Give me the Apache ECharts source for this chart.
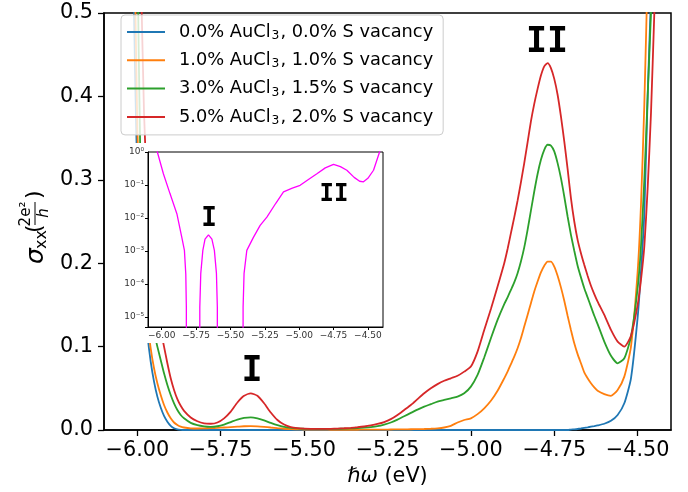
<!DOCTYPE html>
<html>
<head>
<meta charset="utf-8">
<script src="https://cdn.jsdelivr.net/npm/echarts@6.0.0/dist/echarts.min.js"></script>
<style>
html, body { margin: 0; padding: 0; background: #fff; }
#chart { width: 688px; height: 492px; }
</style>
</head>
<body>
<div id="chart"></div>
<script>
// photon energy grid (eV), shared by the four main curves
var energy = [
  -6.02, -6.01, -6.00, -5.99, -5.98, -5.97, -5.96, -5.95, -5.94, -5.93,
  -5.92, -5.91, -5.90, -5.89, -5.88, -5.87, -5.86,
  -5.84, -5.82, -5.80, -5.78, -5.76, -5.74, -5.72, -5.70, -5.68, -5.66,
  -5.64, -5.62, -5.60, -5.58, -5.56, -5.54, -5.52, -5.50,
  -5.48, -5.46, -5.44, -5.42, -5.40, -5.38, -5.36, -5.34, -5.32, -5.30,
  -5.28, -5.26, -5.24, -5.22, -5.20, -5.18, -5.16, -5.14, -5.12, -5.10,
  -5.08, -5.06, -5.04, -5.02,
  -5.00, -4.98, -4.96, -4.94, -4.92,
  -4.90, -4.89, -4.88, -4.87, -4.86, -4.85, -4.84, -4.83, -4.82, -4.81,
  -4.80, -4.79, -4.78, -4.77, -4.76, -4.75, -4.74, -4.73, -4.72, -4.71,
  -4.70, -4.69, -4.68, -4.67, -4.66, -4.65, -4.64, -4.63, -4.62,
  -4.60, -4.58, -4.56, -4.54, -4.52, -4.50,
  -4.49, -4.48, -4.47, -4.46, -4.45, -4.44
];

// sigma_xx in units of 2e^2/h
var sigma0 = [
  0.80, 0.50, 0.30, 0.22, 0.16, 0.115, 0.082, 0.058, 0.040, 0.027,
  0.017, 0.010, 0.005, 0.002, 0.0007, 0.0002, 0,
  0, 0, 0, 0, 0, 0, 0, 0, 0, 0,
  0, 0, 0, 0, 0, 0, 0, 0,
  0, 0, 0, 0, 0, 0, 0, 0, 0, 0,
  0, 0, 0, 0, 0, 0, 0, 0, 0, 0,
  0, 0, 0, 0,
  0, 0, 0, 0, 0,
  0, 0, 0, 0, 0, 0, 0, 0, 0, 0,
  0, 0, 0, 0, 0, 0, 0, 0, 0, 0,
  0.0005, 0.0008, 0.0012, 0.0018, 0.0025, 0.0032, 0.004, 0.0047, 0.0055,
  0.0075, 0.011, 0.018, 0.032, 0.062, 0.135,
  0.19, 0.26, 0.40, 0.52, 0.64, 0.78
];
var sigma1 = [
  0.90, 0.62, 0.36, 0.25, 0.18, 0.13, 0.098, 0.074, 0.056, 0.042,
  0.030, 0.021, 0.014, 0.009, 0.006, 0.004, 0.003,
  0.002, 0.0018, 0.002, 0.0022, 0.0025, 0.003, 0.0035, 0.004, 0.0045, 0.0046,
  0.0044, 0.0038, 0.003, 0.0022, 0.0015, 0.001, 0.0008, 0.0006,
  0.0005, 0.0004, 0.0004, 0.0003, 0.0003, 0.0003, 0.0003, 0.0003, 0.0004, 0.0004,
  0.0005, 0.0005, 0.0006, 0.0007, 0.0008, 0.0009, 0.001, 0.0012, 0.0015, 0.002,
  0.003, 0.005, 0.009, 0.012,
  0.014, 0.019, 0.026, 0.035, 0.047,
  0.062, 0.070, 0.079, 0.088, 0.098, 0.110, 0.124, 0.138, 0.152, 0.166,
  0.178, 0.189, 0.197, 0.202, 0.202, 0.196, 0.185, 0.171, 0.155, 0.137,
  0.120, 0.104, 0.091, 0.080, 0.069, 0.062, 0.056, 0.051, 0.047,
  0.043, 0.041, 0.048, 0.064, 0.100, 0.19,
  0.27, 0.39, 0.55, 0.70, 0.85, 1.0
];
var sigma3 = [
  1.4, 0.9, 0.58, 0.30, 0.22, 0.17, 0.14, 0.118, 0.100, 0.084,
  0.068, 0.054, 0.042, 0.032, 0.024, 0.018, 0.014,
  0.0085, 0.0058, 0.0044, 0.0038, 0.0045, 0.0065, 0.0095, 0.0125, 0.0145, 0.0152,
  0.014, 0.0115, 0.0085, 0.0058, 0.0038, 0.0026, 0.0019, 0.0015,
  0.0013, 0.0012, 0.0012, 0.0013, 0.0014, 0.0016, 0.0019, 0.0023, 0.0028, 0.0035,
  0.0046, 0.0065, 0.009, 0.0125, 0.0165, 0.0205, 0.0245, 0.028, 0.031, 0.034,
  0.036, 0.038, 0.040, 0.044,
  0.052, 0.066, 0.087, 0.110, 0.132,
  0.151, 0.159, 0.168, 0.177, 0.188, 0.202, 0.219, 0.240, 0.263, 0.286,
  0.307, 0.324, 0.336, 0.342, 0.341, 0.334, 0.320, 0.302, 0.280, 0.256,
  0.234, 0.215, 0.197, 0.183, 0.170, 0.159, 0.148, 0.137, 0.127,
  0.106, 0.089, 0.080, 0.086, 0.112, 0.17,
  0.22, 0.30, 0.40, 0.50, 0.62, 0.75
];
var sigma5 = [
  1.5, 1.0, 0.75, 0.56, 0.38, 0.28, 0.21, 0.170, 0.142, 0.120,
  0.100, 0.080, 0.062, 0.048, 0.037, 0.029, 0.023,
  0.015, 0.0105, 0.008, 0.0075, 0.009, 0.014, 0.022, 0.033, 0.041, 0.044,
  0.041, 0.032, 0.021, 0.012, 0.0065, 0.0035, 0.0022, 0.0016,
  0.0014, 0.0013, 0.0013, 0.0014, 0.0017, 0.0021, 0.0026, 0.0033, 0.0042, 0.0055,
  0.0072, 0.0095, 0.013, 0.018, 0.024, 0.030, 0.037, 0.044, 0.050, 0.055,
  0.059, 0.062, 0.065, 0.070,
  0.076, 0.094, 0.12, 0.145, 0.172,
  0.200, 0.217, 0.236, 0.255, 0.275, 0.297, 0.320, 0.345, 0.370, 0.391,
  0.409, 0.425, 0.436, 0.440, 0.434, 0.421, 0.402, 0.376, 0.346, 0.313,
  0.278, 0.250, 0.228, 0.212, 0.198, 0.185, 0.173, 0.163, 0.154,
  0.138, 0.12, 0.106, 0.10, 0.113, 0.15,
  0.18, 0.22, 0.29, 0.38, 0.50, 0.62
];

var seriesNames = [
  '0.0% AuCl3, 0.0% S vacancy',
  '1.0% AuCl3, 1.0% S vacancy',
  '3.0% AuCl3, 1.5% S vacancy',
  '5.0% AuCl3, 2.0% S vacancy'
];
var seriesColors = ['#1f77b4', '#ff7f0e', '#2ca02c', '#d62728'];

// inset (log scale), 1e-9 stands for values below the axis
var insetEnergy = [
  -6.06, -6.032, -5.988, -5.94, -5.89, -5.854, -5.835, -5.825, -5.821, -5.8205,
  -5.7235, -5.723, -5.716, -5.701, -5.685, -5.66, -5.635, -5.617, -5.602, -5.5955, -5.595,
  -5.4085, -5.408, -5.401, -5.381, -5.333, -5.284, -5.235, -5.17, -5.114, -5.05,
  -4.993, -4.93, -4.871, -4.81, -4.75, -4.70, -4.653, -4.60, -4.56, -4.532,
  -4.50, -4.459, -4.415, -4.40
];
var insetSigma = [
  3, 1.0, 0.22, 0.055, 0.0135, 0.0026, 0.00105, 0.0002, 0.00002, 1e-9,
  1e-9, 0.00002, 0.00021, 0.00105, 0.0023, 0.0031, 0.0023, 0.00105, 0.00021, 0.00002, 1e-9,
  1e-9, 0.00002, 0.00021, 0.00105, 0.0026, 0.006, 0.0107, 0.028, 0.062, 0.080,
  0.098, 0.15, 0.22, 0.33, 0.42, 0.36, 0.28, 0.17, 0.13, 0.125,
  0.16, 0.28, 1.0, 1.6
];

var xTicks = [-6.0, -5.75, -5.5, -5.25, -5.0, -4.75, -4.5];

var FONT = 'DejaVu Sans';
var SUP = { '-': '⁻', '0': '⁰', '1': '¹', '2': '²', '3': '³', '4': '⁴', '5': '⁵', '6': '⁶', '7': '⁷', '8': '⁸', '9': '⁹' };

function fmtX(v) {
  return v.toFixed(2).replace('-', '\u2212');
}
function fmtLog(v) {
  var l = Math.log10(v);
  var e = Math.round(l);
  if (Math.abs(l - e) > 1e-6) return '';
  return '10' + String(e).split('').map(function (c) { return SUP[c]; }).join('');
}

var myChart = echarts.init(document.getElementById('chart'));

var mainSeries = [sigma0, sigma1, sigma3, sigma5].map(function (vals, k) {
  return {
    name: seriesNames[k],
    type: 'line',
    xAxisIndex: 0,
    yAxisIndex: 0,
    data: energy.map(function (e, i) { return [e, vals[i]]; }),
    showSymbol: false,
    smooth: 0.2,
    clip: true,
    lineStyle: { color: seriesColors[k], width: 1.8 },
    itemStyle: { color: seriesColors[k] },
    z: 2
  };
});

var option = {
  animation: false,
  backgroundColor: '#fff',
  grid: [
    { left: 104, right: 17, top: 13, bottom: 62, show: true, borderColor: '#000', borderWidth: 1.5, z: 0 },
    { left: 148, right: 305, top: 152, bottom: 165, show: true, borderColor: '#000', borderWidth: 1, backgroundColor: 'transparent', z: 4 }
  ],
  legend: {
    orient: 'vertical',
    left: 121,
    top: 15,
    padding: [7, 10, 8, 6],
    itemGap: 8.3,
    itemWidth: 38,
    itemHeight: 2,
    icon: 'rect',
    backgroundColor: 'rgba(255,255,255,0.8)',
    borderColor: '#cccccc',
    borderWidth: 1,
    borderRadius: 4,
    formatter: function (name) { return name.replace('AuCl3', 'AuCl{s|3}'); },
    textStyle: {
      fontFamily: FONT, fontSize: 17.8, color: '#000', lineHeight: 20, padding: [0, 0, 0, 9],
      rich: { s: { fontFamily: FONT, fontSize: 12.3, color: '#000', verticalAlign: 'bottom', lineHeight: 14, padding: [0, 1, 0, 1] } }
    },
    data: seriesNames,
    z: 10
  },
  xAxis: [
    {
      type: 'value', gridIndex: 0, min: -6.1, max: -4.4,
      name: '{i|ℏω} (eV)', nameLocation: 'middle', nameGap: 34,
      nameTextStyle: { fontFamily: FONT, fontSize: 20.8, color: '#000', rich: { i: { fontFamily: FONT, fontStyle: 'italic', fontSize: 20.8, color: '#000' } } },
      axisLine: { show: true, onZero: false, lineStyle: { color: '#000', width: 1.5 } },
      axisTick: { show: true, inside: false, length: 6, customValues: xTicks, lineStyle: { color: '#000', width: 1.3 } },
      axisLabel: { customValues: xTicks, formatter: fmtX, fontFamily: FONT, fontSize: 20.8, color: '#000', margin: 10 },
      splitLine: { show: false },
      z: 0
    },
    {
      type: 'value', gridIndex: 1, min: -6.1, max: -4.39,
      axisLine: { show: true, onZero: false, lineStyle: { color: '#000', width: 1 } },
      axisTick: { show: true, length: 3, customValues: xTicks, lineStyle: { color: '#000' } },
      axisLabel: { customValues: xTicks, formatter: fmtX, fontFamily: FONT, fontSize: 9, color: '#333', margin: 4 },
      splitLine: { show: false },
      z: 5
    }
  ],
  yAxis: [
    {
      type: 'value', gridIndex: 0, min: 0, max: 0.5, interval: 0.1,
      axisLine: { show: true, lineStyle: { color: '#000', width: 1.5 } },
      axisTick: { show: true, length: 6, lineStyle: { color: '#000', width: 1.3 } },
      axisLabel: { formatter: function (v) { return v.toFixed(1); }, fontFamily: FONT, fontSize: 20.8, color: '#000', margin: 11 },
      splitLine: { show: false },
      z: 0
    },
    {
      type: 'log', gridIndex: 1, logBase: 10, min: 5e-6, max: 1,
      axisLine: { show: true, lineStyle: { color: '#000', width: 1 } },
      axisTick: { show: true, length: 3, lineStyle: { color: '#000' } },
      axisLabel: { formatter: fmtLog, fontFamily: FONT, fontSize: 9, color: '#333', margin: 4 },
      splitLine: { show: false },
      z: 5
    }
  ],
  series: mainSeries.concat([{
    name: 'inset',
    type: 'line',
    xAxisIndex: 1,
    yAxisIndex: 1,
    data: insetEnergy.map(function (e, i) { return [e, insetSigma[i]]; }),
    showSymbol: false,
    clip: true,
    lineStyle: { color: '#ff00ff', width: 1.3 },
    itemStyle: { color: '#ff00ff' },
    z: 6
  }]),
  graphic: [
    // white backing of the inset (covers its tick labels too)
    { type: 'rect', shape: { x: 108, y: 143, width: 280, height: 200 }, style: { fill: '#fff' }, silent: true, z: 3 },
    // peak markers
    { type: 'text', x: 252, y: 372, z: 10, style: { text: 'I', font: 'bold 35px "DejaVu Sans Mono"', fill: '#000', textAlign: 'center', textVerticalAlign: 'middle' } },
    { type: 'text', x: 547, y: 43, z: 10, style: { text: 'II', font: 'bold 35px "DejaVu Sans Mono"', fill: '#000', textAlign: 'center', textVerticalAlign: 'middle' } },
    { type: 'text', x: 209, y: 219, z: 10, style: { text: 'I', font: 'bold 26px "DejaVu Sans Mono"', fill: '#000', textAlign: 'center', textVerticalAlign: 'middle' } },
    { type: 'text', x: 334, y: 195, z: 10, style: { text: 'II', font: 'bold 24px "DejaVu Sans Mono"', fill: '#000', textAlign: 'center', textVerticalAlign: 'middle' } },
    // y axis title: sigma_xx (2e^2 / h), rotated
    {
      type: 'group', x: 34, y: 222, rotation: Math.PI / 2, z: 10,
      children: [
        { type: 'text', x: -42, y: 2, style: { text: 'σ', font: 'italic 25px "DejaVu Sans"', fill: '#000', textAlign: 'left', textVerticalAlign: 'middle' } },
        { type: 'text', x: -27, y: 8, style: { text: 'xx', font: '16px "DejaVu Sans"', fill: '#000', textAlign: 'left', textVerticalAlign: 'middle' } },
        { type: 'text', x: -11, y: 1, style: { text: '(', font: '22px "DejaVu Sans"', fill: '#000', textAlign: 'left', textVerticalAlign: 'middle' } },
        { type: 'text', x: 8, y: -8, style: { text: '2e²', font: '15px "DejaVu Sans"', fill: '#000', textAlign: 'center', textVerticalAlign: 'middle' } },
        { type: 'line', shape: { x1: -3, y1: 1, x2: 20, y2: 1 }, style: { stroke: '#000', lineWidth: 1 } },
        { type: 'text', x: 9, y: 10, style: { text: 'h', font: 'italic 15px "DejaVu Sans"', fill: '#000', textAlign: 'center', textVerticalAlign: 'middle' } },
        { type: 'text', x: 23, y: 1, style: { text: ')', font: '22px "DejaVu Sans"', fill: '#000', textAlign: 'left', textVerticalAlign: 'middle' } }
      ]
    }
  ]
};

myChart.setOption(option);
</script>
</body>
</html>
